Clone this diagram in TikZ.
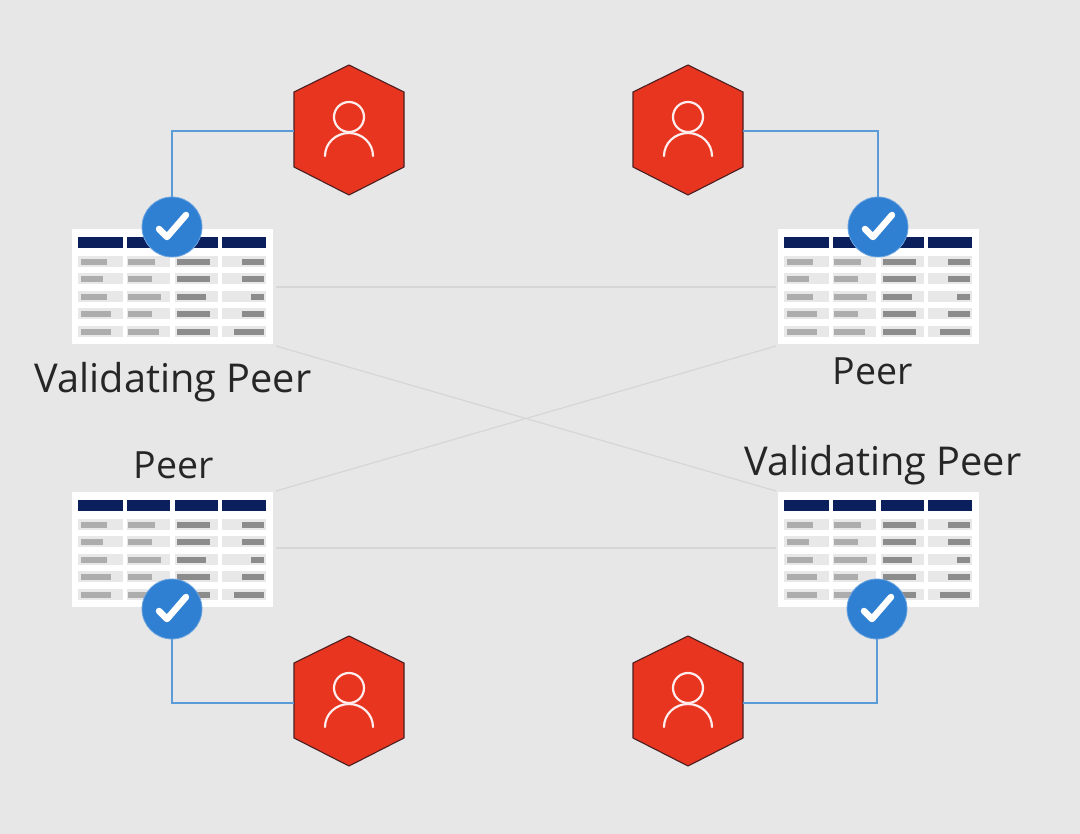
\documentclass[tikz,border=0pt]{standalone}
\usepackage{fontspec}
\setmainfont{Open Sans}
\definecolor{bgc}{HTML}{E7E7E7}
\definecolor{redc}{HTML}{E8351F}
\definecolor{redd}{HTML}{4A1F22}
\definecolor{bluec}{HTML}{2F7FD2}
\definecolor{wirec}{HTML}{5B9BD8}
\definecolor{greyl}{HTML}{D6D6D6}
\definecolor{navy}{HTML}{0B1F5C}
\definecolor{cellc}{HTML}{E8E8E8}
\definecolor{barl}{HTML}{ADADAD}
\definecolor{bard}{HTML}{8C8C8C}
\tikzset{
  hexbox/.style={rectangle,minimum width=110pt,minimum height=130pt,inner sep=0pt},
  hexfill/.style={fill=redc,draw=redd,line width=1.1pt,line join=miter},
  person/.style={draw=white!93!red,line width=2.2pt,line cap=round},
  tablebox/.style={rectangle,fill=white,minimum width=201pt,minimum height=115pt,inner sep=0pt},
  checkdisc/.style={circle,fill=bluec,draw=bluec!70!white,line width=.8pt,minimum size=60pt,inner sep=0pt},
  checkmark/.style={draw=white,line width=6.5pt,line cap=round,line join=round},
  wire/.style={draw=wirec,line width=1.6pt},
  peerlink/.style={draw=greyl,line width=1.2pt},
  peerlabel/.style={font=\fontsize{39.7}{46}\selectfont,text=black!85,inner sep=0pt},
  peershort/.style={font=\fontsize{37.5}{44}\selectfont,text=black!85,inner sep=0pt},
}
% hexagon with user icon: name, centre x, centre y
\newcommand{\hexuser}[3]{%
  \node[hexbox] (#1) at (#2,#3) {};
  \begin{scope}[shift={(#2,#3)}]
    \path[hexfill] (0,-65) -- (55,-38) -- (55,37) -- (0,65) -- (-55,37) -- (-55,-38) -- cycle;
    \draw[person] (0,-13) circle[radius=15];
    \draw[person] (-24,26) arc[start angle=180,end angle=0,x radius=24,y radius=-23];
  \end{scope}}
% data table: name, left x, top y
\newcommand{\ledger}[3]{%
  \node[tablebox] (#1) at (#2+100.5,#3+57.5) {};
  \begin{scope}[shift={(#2,#3)}]
    \foreach \cx/\cy in {6/51,55/98,103/146,150/194}{
      \fill[navy] (\cx,8) rectangle (\cy,19);
      \foreach \ry in {27,44,62,79,97}{
        \fill[cellc] (\cx,\ry) rectangle (\cy,\ry+11);}}
    \foreach \ry/\aa/\bb/\cc/\dd in {30/35/83/138/170,47/31/80/138/170,65/35/89/134/179,82/39/80/138/170,100/39/87/138/162}{
      \fill[barl] (8.7,\ry) rectangle (\aa,\ry+6);
      \fill[barl] (56,\ry) rectangle (\bb,\ry+6);
      \fill[bard] (105,\ry) rectangle (\cc,\ry+6);
      \fill[bard] (\dd,\ry) rectangle (192,\ry+6);}
  \end{scope}}
% check disc: name, x, y
\newcommand{\checkdot}[3]{%
  \node[checkdisc] (#1) at (#2,#3) {};
  \draw[checkmark] (#2-13,#3+2) -- (#2-5,#3+10) -- (#2+14,#3-12);}
\begin{document}
\begin{tikzpicture}[x=1pt,y=-1pt]
\useasboundingbox (0,0) rectangle (1080,834);
\fill[bgc] (0,0) rectangle (1080,834);

% peer-to-peer links
\coordinate (tlA) at (276,287); \coordinate (trA) at (776,287);
\coordinate (blA) at (276,548); \coordinate (brA) at (776,548);
\coordinate (tlB) at (276,346); \coordinate (brB) at (776,491);
\coordinate (blB) at (276,491); \coordinate (trB) at (776,346);
\draw[peerlink] (tlA) -- (trA);
\draw[peerlink] (blA) -- (brA);
\draw[peerlink] (tlB) -- (brB);
\draw[peerlink] (blB) -- (trB);

\ledger{tabTL}{72}{229}
\ledger{tabTR}{778}{229}
\ledger{tabBL}{72}{491.5}
\ledger{tabBR}{778}{491.5}

\hexuser{hexTL}{349}{130}
\hexuser{hexTR}{688}{130}
\hexuser{hexBL}{349}{701}
\hexuser{hexBR}{688}{701}

\checkdot{chkTL}{172}{227}
\checkdot{chkTR}{878}{227}
\checkdot{chkBL}{172}{609}
\checkdot{chkBR}{877}{609}

\draw[wire] (hexTL.west) ++(0,1) -| (chkTL.north);
\draw[wire] (hexTR.east) ++(0,1) -| (chkTR.north);
\draw[wire] (hexBL.west) ++(0,2) -| (chkBL.south);
\draw[wire] (hexBR.east) ++(0,2) -| (chkBR.south);

\node[peerlabel] (lblTL) at (173,382) {Validating Peer};
\node[peershort] (lblTR) at (872.5,371) {Peer};
\node[peershort] (lblBL) at (173.5,465) {Peer};
\node[peerlabel] (lblBR) at (883,465) {Validating Peer};
\end{tikzpicture}
\end{document}
